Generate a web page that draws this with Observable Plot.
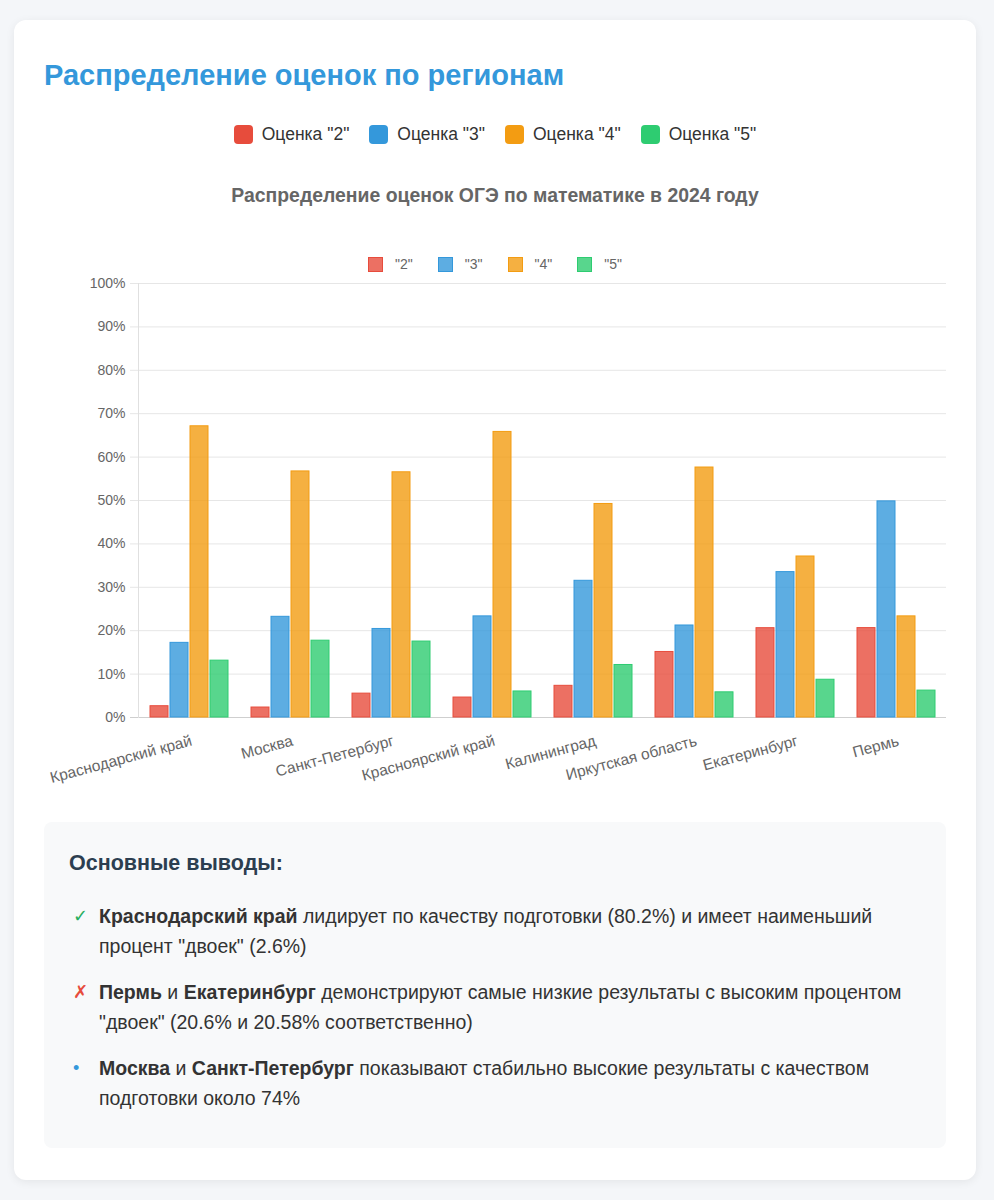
<!DOCTYPE html>
<html>
<head>
<meta charset="utf-8">
<script src="https://cdn.jsdelivr.net/npm/d3@7"></script>
<script src="https://cdn.jsdelivr.net/npm/@observablehq/plot@0.6"></script>
<style>
  html, body { margin: 0; padding: 0; }
  body { background: #f4f6f9; font-family: "Liberation Sans", Arial, Helvetica, sans-serif; width: 994px; height: 1200px; position: relative; }
  .card { position: absolute; left: 14px; top: 20px; width: 902px; padding: 30px 30px 32px 30px; background: #fff; border-radius: 12px; box-shadow: 0 2px 10px rgba(0,0,0,0.07); }
  h2 { margin: 8px 0 0 0; font-size: 29px; line-height: 34px; color: #3498db; font-weight: bold; }
  .legend { margin-top: 30px; height: 24px; display: flex; justify-content: center; align-items: center; gap: 20px; font-size: 17.5px; color: #333; }
  .legend .item { display: flex; align-items: center; gap: 9px; }
  .legend .sw { width: 19px; height: 19px; border-radius: 4px; display: inline-block; }
  .ctitle { margin-top: 37px; height: 24px; line-height: 24px; text-align: center; font-size: 19.4px; font-weight: bold; color: #666; }
  .clegend { margin-top: 48px; height: 18px; display: flex; justify-content: center; align-items: center; gap: 25px; font-size: 14px; color: #666; }
  .clegend .item { display: flex; align-items: center; gap: 12px; }
  .clegend .sw { width: 15px; height: 15px; display: inline-block; box-sizing: border-box; border: 1px solid; }
  #chart { height: 514px; position: relative; }
  #chart svg { display: block; }
  #chart svg.bars { position: absolute; left: 0; top: 0; }
  .box { margin-top: 35px; background: #f8f9fa; border-radius: 8px; padding: 25px 25px 35px 25px; }
  .box h3 { margin: 0; font-size: 21.5px; line-height: 32px; color: #2c3e50; font-weight: bold; }
  .box ul { list-style: none; margin: 22px 0 0 0; padding: 0; }
  .box li { position: relative; padding-left: 30px; font-size: 19.5px; line-height: 30px; color: #333; margin-bottom: 16px; }
  .box li:last-child { margin-bottom: 0; }
  .box li .m { position: absolute; left: 4px; top: 0; font-size: 18px; }
</style>
</head>
<body>
<div class="card">
  <h2>Распределение оценок по регионам</h2>
  <div class="legend" id="legend"></div>
  <div class="ctitle">Распределение оценок ОГЭ по математике в 2024 году</div>
  <div class="clegend" id="clegend"></div>
  <div id="chart"></div>
  <div class="box">
    <h3>Основные выводы:</h3>
    <ul>
      <li><span class="m" style="color:#27ae60">✓</span><b>Краснодарский край</b> лидирует по качеству подготовки (80.2%) и имеет наименьший процент "двоек" (2.6%)</li>
      <li><span class="m" style="color:#e74c3c">✗</span><b>Пермь</b> и <b>Екатеринбург</b> демонстрируют самые низкие результаты с высоким процентом "двоек" (20.6% и 20.58% соответственно)</li>
      <li><span class="m" style="color:#3498db">•</span><b>Москва</b> и <b>Санкт-Петербург</b> показывают стабильно высокие результаты с качеством подготовки около 74%</li>
    </ul>
  </div>
</div>
<script>
const regions = ["Краснодарский край", "Москва", "Санкт-Петербург", "Красноярский край", "Калининград", "Иркутская область", "Екатеринбург", "Пермь"];
const grades = ['"2"', '"3"', '"4"', '"5"'];
const legendLabels = ['Оценка "2"', 'Оценка "3"', 'Оценка "4"', 'Оценка "5"'];
const grade2 = [2.6, 2.3, 5.5, 4.6, 7.3, 15.1, 20.58, 20.6];
const grade3 = [17.2, 23.2, 20.4, 23.3, 31.5, 21.2, 33.5, 49.8];
const grade4 = [67.1, 56.7, 56.5, 65.8, 49.2, 57.6, 37.1, 23.3];
const grade5 = [13.1, 17.7, 17.5, 6.0, 12.1, 5.8, 8.7, 6.2];
const colors = ["#e74c3c", "#3498db", "#f39c12", "#2ecc71"];
const yTicks = [0, 10, 20, 30, 40, 50, 60, 70, 80, 90, 100];

const series = [grade2, grade3, grade4, grade5];
const data = regions.flatMap((r, i) => grades.map((g, j) => ({region: r, grade: g, value: series[j][i]})));

// HTML legends
const lg = document.getElementById("legend");
legendLabels.forEach((t, j) => {
  const it = document.createElement("span"); it.className = "item";
  it.innerHTML = `<span class="sw" style="background:${colors[j]}"></span><span>${t}</span>`;
  lg.appendChild(it);
});
const cl = document.getElementById("clegend");
grades.forEach((t, j) => {
  const c = d3.color(colors[j]); c.opacity = 0.8;
  const it = document.createElement("span"); it.className = "item";
  it.innerHTML = `<span class="sw" style="background:${c.formatRgb()};border-color:${colors[j]}"></span><span>${t}</span>`;
  cl.appendChild(it);
});

const common = {
  width: 902,
  height: 514,
  marginLeft: 94,
  marginRight: 0,
  marginTop: 10,
  marginBottom: 70,
  style: {fontFamily: '"Liberation Sans", Arial, sans-serif', fontSize: "14px", color: "#666", background: "transparent"},
  y: {domain: [0, 100], axis: null}
};

// Background: grid, axes, labels (regions on a band scale aligned with the facets)
const axes = Plot.plot({
  ...common,
  x: {domain: regions, paddingInner: 0.2, paddingOuter: 0.1, axis: null},
  marks: [
    Plot.ruleY(yTicks.filter(d => d > 0), {y: d => d, stroke: "#e6e6e6", insetLeft: -8}),
    Plot.ruleY([0], {y: d => d, stroke: "#cfcfcf", insetLeft: -8}),
    Plot.frame({anchor: "left", stroke: "#e0e0e0"}),
    Plot.text(yTicks, {y: d => d, text: d => d + "%", frameAnchor: "left", textAnchor: "end", dx: -13, fill: "#666", fontSize: 14}),
    Plot.text(regions, {x: d => d, text: d => d, frameAnchor: "bottom", textAnchor: "end", lineAnchor: "middle", rotate: -15, dy: 23, dx: 2, fill: "#666", fontSize: 15.5})
  ]
});

// Foreground: grouped bars via fx facets
const bars = Plot.plot({
  ...common,
  fx: {domain: regions, paddingInner: 0.2, paddingOuter: 0.1, axis: null, label: null},
  x: {domain: grades, paddingInner: 0.1, paddingOuter: 0.05, axis: null},
  color: {domain: grades, range: colors},
  marks: [
    Plot.barY(data, {fx: "region", x: "grade", y: "value", fill: "grade", fillOpacity: 0.8, stroke: "grade", strokeWidth: 1})
  ]
});
bars.classList.add("bars");
const host = document.getElementById("chart");
host.appendChild(axes);
host.appendChild(bars);
</script>
</body>
</html>
